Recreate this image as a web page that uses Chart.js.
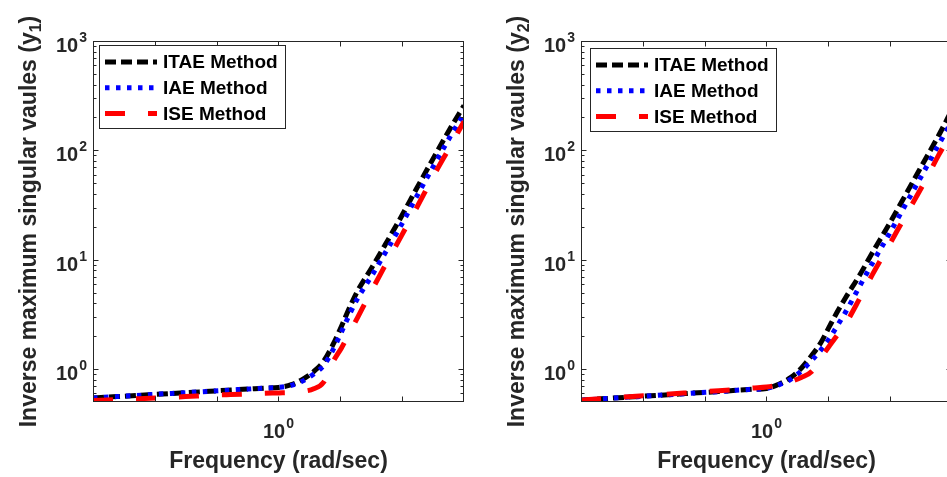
<!DOCTYPE html>
<html>
<head>
<meta charset="utf-8">
<script src="https://cdn.jsdelivr.net/npm/chart.js@4.4.1/dist/chart.umd.min.js"></script>
<style>
  html, body { margin: 0; padding: 0; background: #fff; overflow: hidden; }
  #wrap { position: relative; width: 947px; height: 477px; overflow: hidden; }
  .panel { position: absolute; top: 0; width: 470px; height: 477px; }
</style>
</head>
<body>
<div id="wrap">
  <div class="panel" style="left:0"><canvas id="chartY1" width="470" height="477"></canvas></div>
  <div class="panel" style="left:488px"><canvas id="chartY2" width="470" height="477"></canvas></div>
</div>
<script>
// frequency grid (rad/sec), shared by both panels
var freq = [0.2512, 0.3, 0.4, 0.5, 0.6, 0.7, 0.8, 0.9, 1.0, 1.1, 1.2, 1.3, 1.4, 1.5, 1.6, 1.7, 1.8, 2.0, 2.2, 2.5, 2.8, 3.2, 3.6, 3.981];

var methodNames = ['ITAE Method', 'IAE Method', 'ISE Method'];

// output y1
var itaeY1 = [0.545, 0.56, 0.588, 0.608, 0.627, 0.643, 0.657, 0.67, 0.68, 0.72, 0.81, 0.95, 1.18, 1.67, 2.48, 3.68, 5.15, 8.4, 13.3, 25, 45, 89, 160, 257];
var iaeY1 = [0.545, 0.56, 0.588, 0.608, 0.627, 0.643, 0.657, 0.67, 0.68, 0.71, 0.78, 0.9, 1.08, 1.5, 2.2, 3.2, 4.4, 7.1, 11.2, 21, 38, 75, 135, 216];
var iseY1 = [0.515, 0.525, 0.545, 0.56, 0.575, 0.585, 0.593, 0.6, 0.605, 0.61, 0.625, 0.66, 0.76, 1.16, 1.57, 2.16, 2.94, 5.2, 8.6, 16.6, 30, 61, 110, 184];

// output y2
var itaeY2 = [0.52, 0.537, 0.565, 0.587, 0.607, 0.623, 0.64, 0.653, 0.665, 0.73, 0.84, 1.03, 1.33, 1.75, 2.47, 3.39, 4.47, 7.2, 11.6, 21.4, 38, 75, 136, 235];
var iaeY2 = [0.52, 0.537, 0.565, 0.587, 0.607, 0.623, 0.64, 0.653, 0.665, 0.72, 0.81, 0.97, 1.2, 1.5, 1.92, 2.53, 3.3, 5.7, 9.3, 17.4, 31, 61, 112, 185];
var iseY2 = [0.52, 0.54, 0.57, 0.595, 0.615, 0.635, 0.65, 0.67, 0.685, 0.72, 0.77, 0.84, 0.95, 1.27, 1.64, 2.07, 2.58, 4.4, 7.3, 13.8, 24.5, 47.8, 90, 148];

// ticks
var xTickVals = [0.3981, 0.631, 1, 1.585, 2.512];
var xLabelExps = [0];
var yLabelExps = [0, 1, 2, 3];

var axisColor = '#262626';
var fontFam = '"Liberation Sans", Arial, Helvetica, sans-serif';

function toPoints(ys) {
  return freq.map(function (f, i) { return { x: f, y: ys[i] }; });
}

// "10" with a raised exponent, y = baseline of "10"
function drawPower(ctx, x, y, exp, align) {
  ctx.font = 'bold 20px ' + fontFam;
  var wBase = ctx.measureText('10').width;
  ctx.font = 'bold 14px ' + fontFam;
  var wExp = ctx.measureText(String(exp)).width + 1;
  var x0 = align === 'right' ? x - wBase - wExp : x - (wBase + wExp) / 2;
  ctx.textAlign = 'left';
  ctx.textBaseline = 'alphabetic';
  ctx.font = 'bold 20px ' + fontFam;
  ctx.fillText('10', x0, y);
  ctx.font = 'bold 14px ' + fontFam;
  ctx.fillText(String(exp), x0 + wBase + 1, y - 10);
}

var matlabAxes = {
  id: 'matlabAxes',
  afterDatasetsDraw: function (chart, args, opts) {
    var ctx = chart.ctx, a = chart.chartArea;
    var xs = chart.scales.x, ys = chart.scales.y;
    var L = Math.round(a.left) + 0.5, R = Math.round(a.right) - 0.5;
    var T = Math.round(a.top) + 0.5, B = Math.round(a.bottom) - 0.5;
    ctx.save();
    ctx.strokeStyle = axisColor;
    ctx.lineWidth = 1;
    ctx.setLineDash([]);
    ctx.strokeRect(L, T, R - L, B - T);

    // x ticks, bottom and top, pointing in
    ctx.beginPath();
    xTickVals.forEach(function (v) {
      var px = Math.round(xs.getPixelForValue(v)) + 0.5;
      ctx.moveTo(px, B); ctx.lineTo(px, B - 5);
      ctx.moveTo(px, T); ctx.lineTo(px, T + 5);
    });
    // y ticks, decades and minors
    for (var e = -1; e <= 3; e++) {
      for (var m = 1; m <= 9; m++) {
        var v = m * Math.pow(10, e);
        if (v <= ys.min || v >= ys.max) continue;
        var py = Math.round(ys.getPixelForValue(v)) + 0.5;
        var len = m === 1 ? 5 : 3;
        ctx.moveTo(L, py); ctx.lineTo(L + len, py);
        ctx.moveTo(R, py); ctx.lineTo(R - len, py);
      }
    }
    ctx.stroke();

    // tick labels
    ctx.fillStyle = axisColor;
    yLabelExps.forEach(function (e) {
      drawPower(ctx, a.left - 6, ys.getPixelForValue(Math.pow(10, e)) + 11, e, 'right');
    });
    xLabelExps.forEach(function (e) {
      drawPower(ctx, xs.getPixelForValue(Math.pow(10, e)), a.bottom + 36, e, 'center');
    });

    // axis titles
    ctx.font = 'bold 23px ' + fontFam;
    ctx.textAlign = 'center';
    ctx.textBaseline = 'alphabetic';
    ctx.fillText('Frequency (rad/sec)', (a.left + a.right) / 2, a.bottom + 66);

    ctx.save();
    ctx.translate(a.left - 57.5, (a.top + a.bottom) / 2);
    ctx.rotate(-Math.PI / 2);
    var main = 'Inverse maximum singular vaules (y';
    ctx.font = 'bold 23px ' + fontFam;
    var w1 = ctx.measureText(main).width;
    var w3 = ctx.measureText(')').width;
    ctx.font = 'bold 16px ' + fontFam;
    var w2 = ctx.measureText(opts.sub).width;
    var x0 = -(w1 + w2 + w3) / 2;
    ctx.textAlign = 'left';
    ctx.font = 'bold 23px ' + fontFam;
    ctx.fillText(main, x0, 0);
    ctx.fillText(')', x0 + w1 + w2, 0);
    ctx.font = 'bold 16px ' + fontFam;
    ctx.fillText(opts.sub, x0 + w1, 5);
    ctx.restore();

    // legend box
    var bx = a.left + opts.legendDx, by = a.top + opts.legendDy;
    ctx.fillStyle = '#fff';
    ctx.fillRect(bx, by, 186, 83);
    ctx.strokeStyle = axisColor;
    ctx.lineWidth = 1;
    ctx.strokeRect(Math.round(bx) + 0.5, Math.round(by) + 0.5, 186, 83);
    chart.data.datasets.forEach(function (ds, i) {
      var ry = by + 17 + i * 25.7;
      ctx.beginPath();
      ctx.strokeStyle = ds.borderColor;
      ctx.lineWidth = ds.borderWidth;
      ctx.setLineDash(ds.borderDash);
      ctx.moveTo(bx + 6, ry);
      ctx.lineTo(bx + 58, ry);
      ctx.stroke();
      ctx.setLineDash([]);
      ctx.fillStyle = '#000';
      ctx.font = 'bold 19px ' + fontFam;
      ctx.textAlign = 'left';
      ctx.textBaseline = 'middle';
      ctx.fillText(ds.label, bx + 64, ry + 1);
    });
    ctx.restore();
  }
};

function makeChart(id, itae, iae, ise, sub, dx, dy) {
  var ctx = document.getElementById(id).getContext('2d');
  return new Chart(ctx, {
    type: 'line',
    data: {
      datasets: [{
        label: methodNames[0],
        data: toPoints(itae),
        borderColor: '#000000',
        borderWidth: 5,
        borderDash: [11, 5],
        order: 2
      }, {
        label: methodNames[1],
        data: toPoints(iae),
        borderColor: '#0000ff',
        borderWidth: 5,
        borderDash: [4.5, 6.5],
        order: 1
      }, {
        label: methodNames[2],
        data: toPoints(ise),
        borderColor: '#ff0000',
        borderWidth: 5,
        borderDash: [20, 23],
        order: 0
      }]
    },
    options: {
      responsive: false,
      animation: false,
      devicePixelRatio: 1,
      layout: {
        padding: { left: 93, top: 41, right: 6, bottom: 75 }
      },
      elements: {
        point: { radius: 0 },
        line: { cubicInterpolationMode: 'monotone', borderCapStyle: 'butt' }
      },
      datasets: {
        line: { clip: 0 }
      },
      plugins: {
        legend: { display: false },
        tooltip: { enabled: false },
        matlabAxes: { sub: sub, legendDx: dx, legendDy: dy }
      },
      scales: {
        x: {
          type: 'logarithmic',
          display: false,
          min: 0.2512,
          max: 3.981
        },
        y: {
          type: 'logarithmic',
          display: false,
          min: 0.5,
          max: 1000
        }
      }
    },
    plugins: [matlabAxes]
  });
}

var chartY1 = makeChart('chartY1', itaeY1, iaeY1, iseY1, '1', 6, 4);
var chartY2 = makeChart('chartY2', itaeY2, iaeY2, iseY2, '2', 9, 7);
</script>
</body>
</html>
